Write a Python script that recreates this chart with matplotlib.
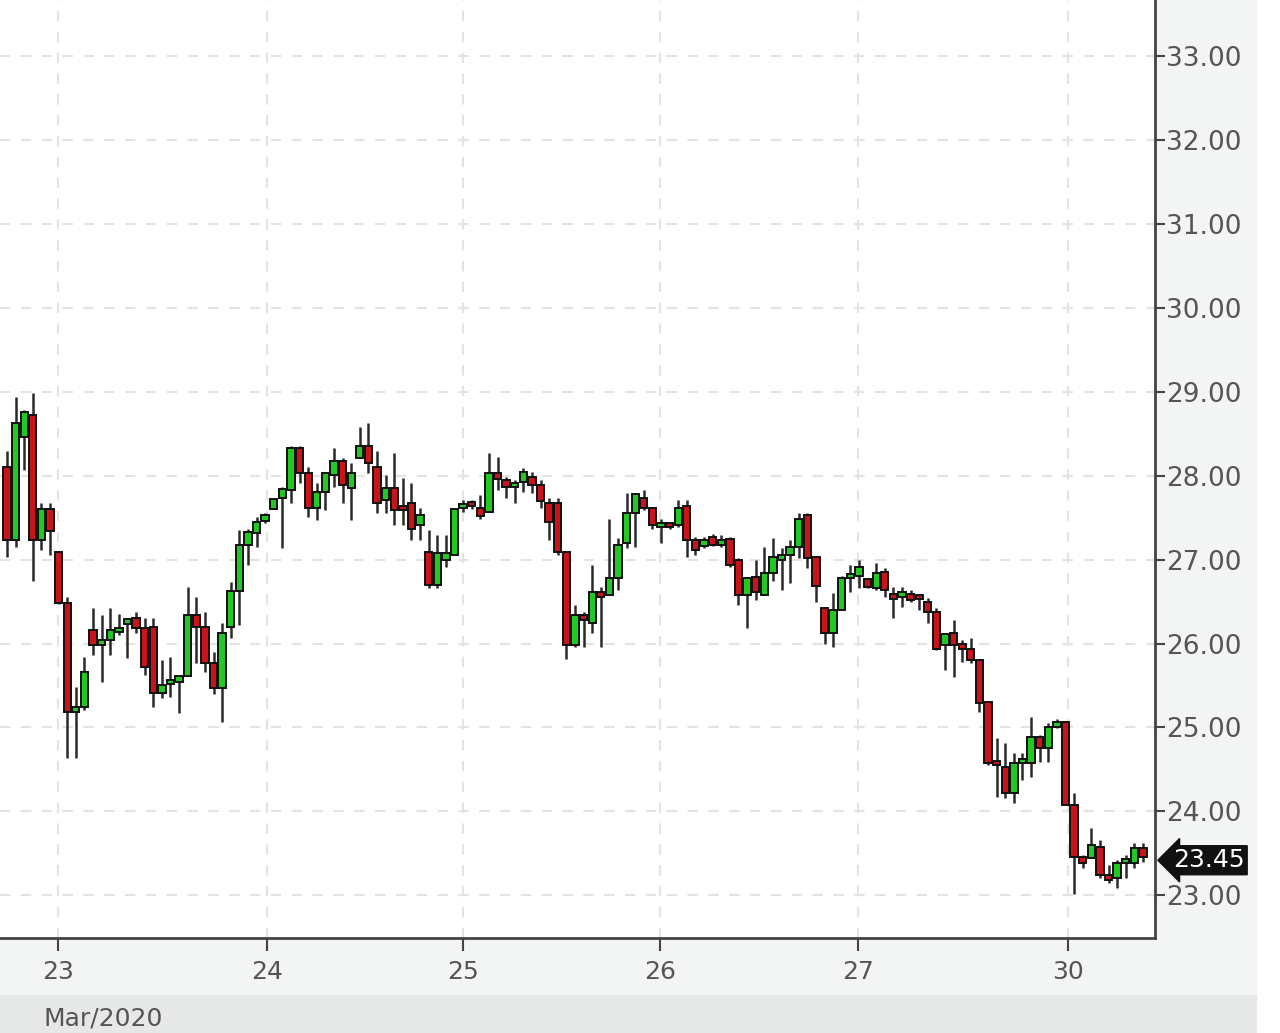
import numpy as np
import matplotlib
matplotlib.use("Agg")
import matplotlib.pyplot as plt
from matplotlib.patches import Rectangle

# candle data (O, H, L, C), one candle per period
opens = [28.10, 27.23, 28.46, 28.72, 27.23, 27.60, 27.09, 26.48, 25.18, 25.24,
         26.16, 25.98, 26.04, 26.14, 26.23, 26.30, 26.19, 26.20, 25.41, 25.52,
         25.54, 25.61, 26.34, 26.20, 25.77, 25.47, 26.20, 26.62, 27.17, 27.32,
         27.46, 27.60, 27.74, 27.83, 28.33, 28.03, 27.62, 27.80, 28.01, 28.17,
         27.85, 28.21, 28.36, 28.10, 27.71, 27.85, 27.62, 27.67, 27.41, 27.09,
         26.70, 26.99, 27.05, 27.61, 27.66, 27.62, 27.57, 28.03, 27.95, 27.86,
         27.92, 27.98, 27.89, 27.67, 27.67, 27.09, 25.98, 26.34, 26.25, 26.61,
         26.58, 26.78, 27.20, 27.56, 27.74, 27.61, 27.39, 27.41, 27.41, 27.64,
         27.23, 27.16, 27.27, 27.18, 27.24, 26.99, 26.58, 26.79, 26.58, 26.84,
         26.99, 27.05, 27.15, 27.53, 27.03, 26.42, 26.13, 26.40, 26.78, 26.80,
         26.77, 26.66, 26.85, 26.59, 26.55, 26.59, 26.55, 26.49, 26.37, 25.98,
         26.12, 25.99, 25.94, 25.80, 25.30, 24.57, 24.53, 24.22, 24.57, 24.57,
         24.88, 24.75, 25.00, 25.07, 24.07, 23.45, 23.44, 23.57, 23.24, 23.20,
         23.38, 23.38, 23.56]
highs = [28.30, 28.94, 28.78, 28.98, 27.68, 27.68, 27.10, 26.56, 25.48, 25.84,
         26.42, 26.34, 26.42, 26.35, 26.30, 26.37, 26.31, 26.31, 25.80, 25.84,
         25.62, 26.67, 26.56, 26.37, 25.90, 26.24, 26.73, 27.35, 27.37, 27.51,
         27.55, 27.72, 27.86, 28.36, 28.36, 28.10, 27.91, 28.04, 28.33, 28.21,
         28.15, 28.58, 28.63, 28.30, 28.01, 28.27, 27.97, 27.91, 27.61, 27.35,
         27.29, 27.29, 27.62, 27.71, 27.71, 27.77, 28.27, 28.22, 27.98, 27.95,
         28.09, 28.04, 27.95, 27.74, 27.73, 27.09, 26.46, 26.37, 26.93, 26.67,
         27.48, 27.26, 27.79, 27.79, 27.83, 27.61, 27.49, 27.43, 27.71, 27.71,
         27.27, 27.27, 27.30, 27.29, 27.27, 27.02, 26.79, 26.99, 27.15, 27.26,
         27.14, 27.23, 27.56, 27.56, 27.03, 26.43, 26.60, 26.81, 26.93, 26.99,
         26.78, 26.96, 26.90, 26.67, 26.67, 26.64, 26.58, 26.54, 26.42, 26.13,
         26.28, 26.04, 26.06, 25.80, 25.32, 24.87, 24.81, 24.69, 24.69, 25.12,
         24.91, 25.05, 25.10, 25.07, 24.22, 23.48, 23.80, 23.66, 23.36, 23.42,
         23.48, 23.62, 23.62]
lows = [27.03, 27.15, 28.07, 26.75, 27.11, 27.05, 26.47, 24.63, 24.63, 25.21,
        25.86, 25.54, 25.86, 26.10, 25.83, 26.12, 25.62, 25.24, 25.35, 25.36,
        25.17, 25.61, 25.77, 25.66, 25.40, 25.06, 26.06, 26.22, 26.93, 27.15,
        27.44, 27.60, 27.14, 27.67, 27.91, 27.51, 27.47, 27.59, 27.86, 27.68,
        27.47, 28.21, 28.03, 27.55, 27.55, 27.41, 27.41, 27.23, 27.23, 26.66,
        26.66, 26.91, 27.05, 27.57, 27.60, 27.49, 27.57, 27.83, 27.73, 27.67,
        27.80, 27.79, 27.62, 27.23, 27.05, 25.82, 25.96, 25.96, 26.12, 25.96,
        26.58, 26.64, 27.14, 27.15, 27.59, 27.37, 27.20, 27.37, 27.39, 27.03,
        27.05, 27.14, 27.16, 27.15, 26.91, 26.46, 26.18, 26.52, 26.58, 26.75,
        26.64, 26.72, 27.02, 26.90, 26.49, 26.00, 25.96, 26.40, 26.61, 26.66,
        26.66, 26.64, 26.55, 26.31, 26.43, 26.49, 26.40, 26.25, 25.92, 25.68,
        25.60, 25.78, 25.77, 25.18, 24.55, 24.17, 24.16, 24.10, 24.37, 24.41,
        24.59, 24.59, 24.99, 24.07, 23.02, 23.32, 23.44, 23.20, 23.15, 23.08,
        23.20, 23.33, 23.40]
closes = [27.23, 28.63, 28.76, 27.23, 27.60, 27.34, 26.48, 25.18, 25.24, 25.66,
          25.98, 26.04, 26.16, 26.18, 26.29, 26.19, 25.72, 25.41, 25.50, 25.54,
          25.61, 26.34, 26.20, 25.77, 25.47, 26.13, 26.62, 27.17, 27.33, 27.45,
          27.53, 27.72, 27.84, 28.33, 28.03, 27.62, 27.80, 28.03, 28.17, 27.89,
          28.03, 28.36, 28.15, 27.67, 27.85, 27.59, 27.59, 27.37, 27.53, 26.70,
          27.08, 27.08, 27.60, 27.64, 27.64, 27.52, 28.03, 27.96, 27.86, 27.91,
          28.04, 27.89, 27.70, 27.45, 27.09, 25.98, 26.34, 26.28, 26.61, 26.55,
          26.78, 27.17, 27.56, 27.78, 27.61, 27.41, 27.43, 27.39, 27.62, 27.23,
          27.12, 27.23, 27.18, 27.23, 26.93, 26.58, 26.78, 26.61, 26.84, 27.03,
          27.05, 27.15, 27.49, 27.02, 26.68, 26.13, 26.40, 26.78, 26.80, 26.91,
          26.67, 26.84, 26.64, 26.53, 26.61, 26.52, 26.53, 26.37, 25.94, 26.11,
          25.98, 25.94, 25.80, 25.29, 24.57, 24.55, 24.22, 24.57, 24.59, 24.88,
          24.75, 25.00, 25.07, 24.07, 23.45, 23.38, 23.60, 23.24, 23.18, 23.38,
          23.38, 23.56, 23.45]

day_labels = ['23', '24', '25', '26', '27', '30']
day_pos = [5.9, 30.2, 53.0, 75.9, 98.9, 123.3]
month_label = 'Mar/2020'
last_price = 23.45

o = np.array(opens)
h = np.array(highs)
l = np.array(lows)
c = np.array(closes)
x = np.arange(len(o))

fig = plt.figure(figsize=(12.8, 10.33), dpi=100)
fig.patch.set_facecolor('#f3f4f4')
# bottom month band and white strip at the far right
fig.patches.append(Rectangle((0, 0), 1257 / 1280, 38 / 1033, transform=fig.transFigure,
                             facecolor='#e6e7e7', edgecolor='none', zorder=0))
fig.patches.append(Rectangle((1257 / 1280, 0), 23 / 1280, 1, transform=fig.transFigure,
                             facecolor='white', edgecolor='none', zorder=0))

ax = fig.add_axes([0, 1 - 938 / 1033, 1155 / 1280, 938 / 1033])
ax.set_facecolor('white')

up = c >= o
colors = np.where(up, '#22c922', '#c8141a')
ax.vlines(x, l, h, color='#2a2a2a', lw=1.8, zorder=2)
body = np.maximum(np.abs(c - o), 0.05)
ax.bar(x, body, bottom=np.minimum(o, c), width=0.85, color=colors,
       edgecolor='#111111', linewidth=1.4, zorder=3)

ax.set_xlim(-0.81, 133.4)
ax.set_ylim(22.49, 33.67)

ax.set_yticks(np.arange(23, 34, 1))
ax.set_yticklabels([f'{v:.2f}' for v in np.arange(23, 34, 1)])
ax.yaxis.tick_right()
ax.set_xticks(day_pos)
ax.set_xticklabels(day_labels)

ax.tick_params(axis='y', direction='out', length=7, width=1.5, pad=1,
               labelsize=19, labelcolor='#555555', color='#444444')
ax.tick_params(axis='x', direction='out', length=9, width=1.5, pad=7,
               labelsize=18, labelcolor='#555555', color='#444444')

ax.grid(True, linestyle=(0, (5, 5)), color='#e3e3e3', lw=1.5, zorder=0)
ax.set_axisbelow(True)

for side in ['left', 'top']:
    ax.spines[side].set_visible(False)
for side in ['right', 'bottom']:
    ax.spines[side].set_color('#444444')
    ax.spines[side].set_linewidth(2)

# last price marker
ax.annotate(f'{last_price:.2f}', xy=(1.0, last_price), xycoords=('axes fraction', 'data'),
            xytext=(13, -2), textcoords='offset points', va='center', ha='left',
            fontsize=18, color='white',
            bbox=dict(boxstyle='larrow,pad=0.1', facecolor='#111111', edgecolor='#111111'),
            annotation_clip=False, zorder=10)

fig.text(43 / 1280, 1 - 1019 / 1033, month_label, fontsize=18, color='#555555',
         va='center', ha='left')

fig.savefig('out.png', dpi=100, facecolor=fig.get_facecolor())
